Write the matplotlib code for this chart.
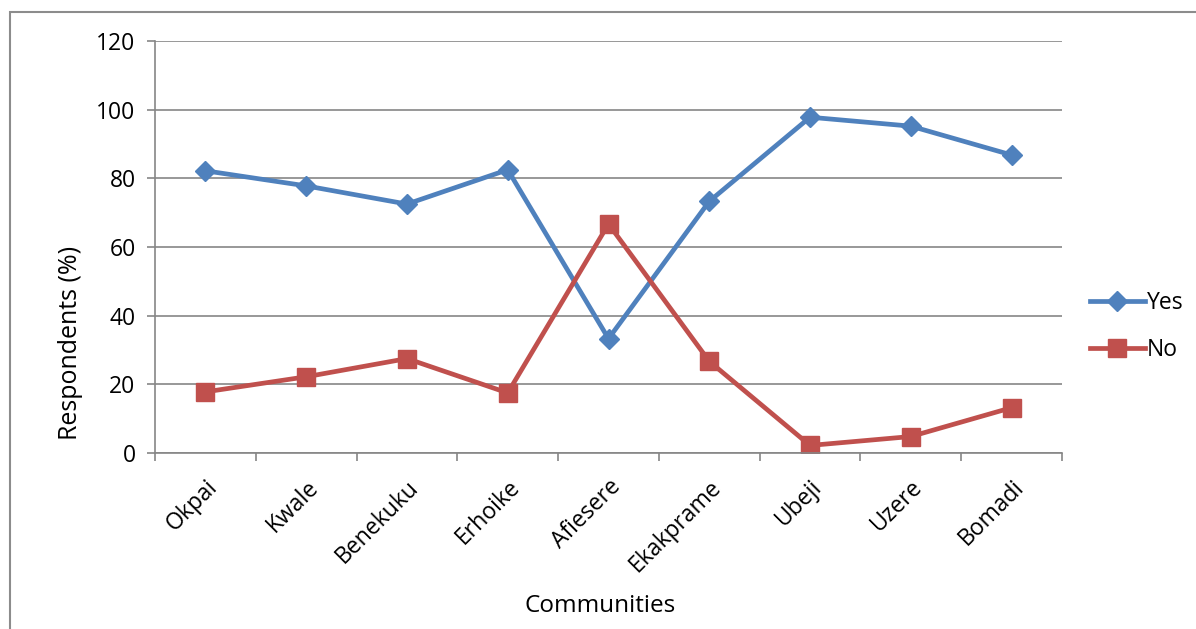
import matplotlib.pyplot as plt
from matplotlib.patches import Rectangle
import numpy as np

communities = ['Okpai', 'Kwale', 'Benekuku', 'Erhoike', 'Afiesere',
               'Ekakprame', 'Ubeji', 'Uzere', 'Bomadi']
yes = [82.2, 77.8, 72.5, 82.5, 33.3, 73.3, 97.8, 95.2, 86.8]
no = [17.8, 22.2, 27.5, 17.5, 66.7, 26.7, 2.2, 4.8, 13.2]

plt.rcParams['font.family'] = ['Open Sans', 'DejaVu Sans']

fig = plt.figure(figsize=(11.96, 6.29), dpi=100)
# outer chart frame (cut off on right and bottom like the source)
fig.patches.append(Rectangle((10 / 1196, -0.1), 1.2, 1 - 12 / 629 + 0.1,
                             transform=fig.transFigure, fill=False,
                             edgecolor='#8c8c8c', linewidth=1.5))

ax = fig.add_axes([155 / 1196, (629 - 453) / 629, 907 / 1196, 412 / 629])
x = np.arange(len(communities))

grey = '#868686'
ax.plot(x, yes, color='#4F81BD', lw=3.4, marker='D', ms=10, label='Yes')
ax.plot(x, no, color='#C0504D', lw=3.4, marker='s', ms=12.5, label='No')

ax.set_xlim(-0.5, len(communities) - 0.5)
ax.set_ylim(0, 120)
ax.set_yticks(np.arange(0, 121, 20))
ax.yaxis.grid(True, color=grey, lw=1.2)
ax.set_axisbelow(True)

ax.set_xticks(x)
ax.set_xticklabels(communities, rotation=45, ha='right', va='top',
                   rotation_mode='anchor', fontsize=16.5)
ax.set_xticks(np.arange(-0.5, len(communities)), minor=True)
ax.tick_params(axis='x', which='major', length=0, pad=16)
ax.tick_params(axis='x', which='minor', length=6, color=grey, width=1.2)
ax.tick_params(axis='y', length=6, color=grey, width=1.2, labelsize=16.5, pad=8)

for s in ['top', 'right']:
    ax.spines[s].set_visible(False)
for s in ['left', 'bottom']:
    ax.spines[s].set_color(grey)
    ax.spines[s].set_linewidth(1.2)

ax.set_ylabel('Respondents (%)', fontsize=18)
ax.yaxis.set_label_coords(-0.079, 0.267)
ax.set_xlabel('Communities', fontsize=17.5)
ax.xaxis.set_label_coords(0.491, -0.343)

ax.legend(loc='center left', bbox_to_anchor=(1.008, 0.308), frameon=False,
          fontsize=16.5, handlelength=2.4, handletextpad=0.1, labelspacing=1.0)

fig.savefig('out.png', dpi=100)
